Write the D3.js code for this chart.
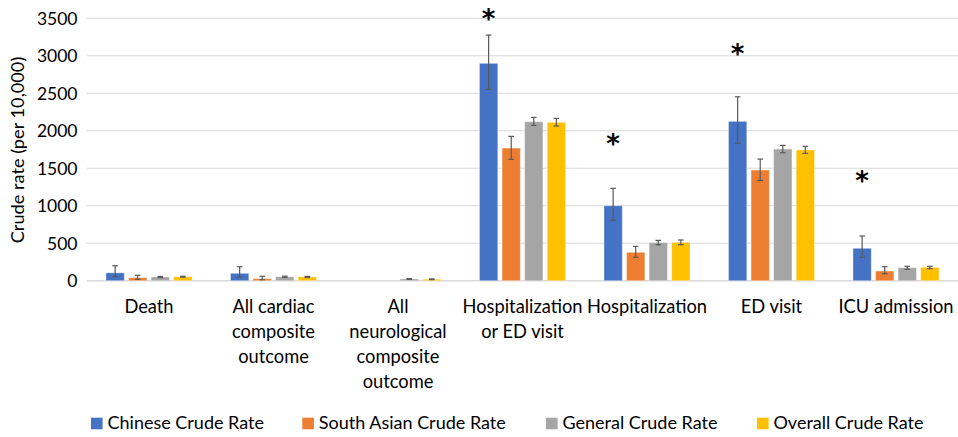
<!DOCTYPE html>
<html>
<head>
<meta charset="utf-8">
<script src="https://cdn.jsdelivr.net/npm/d3@7"></script>
<style>
  html, body { margin: 0; padding: 0; background: #fff; }
  svg { display: block; }
  text { font-family: Lato, "Open Sans", sans-serif; fill: #000; }
</style>
</head>
<body>
<svg id="chart" width="958" height="437"></svg>
<script>
// ---- data ----
const categories = [
  ["Death"],
  ["All cardiac", "composite", "outcome"],
  ["All", "neurological", "composite", "outcome"],
  ["Hospitalization", "or ED visit"],
  ["Hospitalization"],
  ["ED visit"],
  ["ICU admission"]
];
const seriesNames = ["Chinese Crude Rate", "South Asian Crude Rate", "General Crude Rate", "Overall Crude Rate"];
const seriesColors = ["#4472C4", "#ED7D31", "#A5A5A5", "#FFC000"];

const chineseRate    = [105, 98, 0, 2899, 1000, 2125, 432];
const chineseLow     = [53, 45, 0, 2552, 805, 1832, 312];
const chineseHigh    = [200, 187, 0, 3276, 1232, 2453, 596];

const southAsianRate = [40, 27, 0, 1769, 378, 1476, 129];
const southAsianLow  = [19, 13, 0, 1619, 312, 1338, 93];
const southAsianHigh = [72, 59, 0, 1925, 458, 1622, 187];

const generalRate    = [49, 53, 23, 2120, 507, 1756, 173];
const generalLow     = [41, 45, 18, 2072, 480, 1707, 152];
const generalHigh    = [57, 61, 28, 2178, 538, 1805, 192];

const overallRate    = [53, 50, 19, 2112, 511, 1743, 178];
const overallLow     = [47, 43, 15, 2063, 480, 1698, 160];
const overallHigh    = [59, 57, 24, 2165, 543, 1792, 192];

const yTicks = [0, 500, 1000, 1500, 2000, 2500, 3000, 3500];
// significance markers: category index and value level of the asterisk
const asteriskCats   = [3, 4, 5, 6];
const asteriskValues = [3587, 1916, 3121, 1423];

const rates = [chineseRate, southAsianRate, generalRate, overallRate];
const lows  = [chineseLow, southAsianLow, generalLow, overallLow];
const highs = [chineseHigh, southAsianHigh, generalHigh, overallHigh];

// ---- layout ----
const svg = d3.select("#chart");
const plotL = 86.75, plotR = 958.25, plotT = 18.3, plotB = 280.7;

const x0 = d3.scaleBand().domain(d3.range(categories.length)).range([plotL, plotR]).padding(0);
const bw = x0.bandwidth();
const x1 = d3.scaleBand().domain(d3.range(seriesNames.length))
  .range([19.25, bw - 19.25]).paddingInner(0.19).paddingOuter(0);
const y = d3.scaleLinear().domain([0, 3500]).range([plotB, plotT]);

// gridlines
svg.append("g").selectAll("line").data(yTicks).join("line")
  .attr("x1", plotL).attr("x2", plotR)
  .attr("y1", d => y(d)).attr("y2", d => y(d))
  .attr("stroke", "#d9d9d9").attr("stroke-width", d => d === 0 ? 1.5 : 1);

// y axis labels
const yAxis = d3.axisLeft(y).tickValues(yTicks).tickFormat(d3.format("d")).tickSize(0).tickPadding(0);
const gy = svg.append("g").attr("transform", `translate(77.5,0)`).call(yAxis);
gy.select(".domain").remove();
gy.selectAll("text").style("font-family", "Lato, sans-serif").style("font-size", "17.5px").attr("fill", "#000").attr("dy", "0.35em");

// y title
svg.append("text")
  .attr("transform", `translate(24,150) rotate(-90)`)
  .attr("text-anchor", "middle")
  .style("font-size", "18.2px")
  .text("Crude rate (per 10,000)");

// bars
const data = [];
categories.forEach((c, i) => {
  seriesNames.forEach((s, j) => {
    data.push({ ci: i, si: j, v: rates[j][i], lo: lows[j][i], hi: highs[j][i] });
  });
});

const bars = svg.append("g");
bars.selectAll("rect").data(data.filter(d => d.v > 0)).join("rect")
  .attr("x", d => x0(d.ci) + x1(d.si))
  .attr("y", d => y(d.v))
  .attr("width", x1.bandwidth())
  .attr("height", d => y(0) - y(d.v))
  .attr("fill", d => seriesColors[d.si])
  .attr("stroke", "rgba(255,255,255,0.35)")
  .attr("stroke-width", 1);

// error bars
const eb = svg.append("g").attr("stroke", "#595959").attr("stroke-width", 1.2).attr("fill", "none");
const ebData = data.filter(d => d.v > 0);
const cx = d => x0(d.ci) + x1(d.si) + x1.bandwidth() / 2;
eb.selectAll("line.v").data(ebData).join("line").attr("class", "v")
  .attr("x1", cx).attr("x2", cx)
  .attr("y1", d => y(d.lo)).attr("y2", d => y(d.hi));
eb.selectAll("line.t").data(ebData).join("line").attr("class", "t")
  .attr("x1", d => cx(d) - 2.8).attr("x2", d => cx(d) + 2.8)
  .attr("y1", d => y(d.hi)).attr("y2", d => y(d.hi));
eb.selectAll("line.b").data(ebData).join("line").attr("class", "b")
  .attr("x1", d => cx(d) - 2.8).attr("x2", d => cx(d) + 2.8)
  .attr("y1", d => y(d.lo)).attr("y2", d => y(d.lo));

// asterisks
svg.append("g").selectAll("text").data(asteriskCats).join("text")
  .attr("x", (c) => x0(c) + x1(0) + x1.bandwidth() / 2)
  .attr("y", (c, i) => y(asteriskValues[i]))
  .attr("dy", "0.62em")
  .attr("text-anchor", "middle")
  .style("font-family", "'DejaVu Sans', sans-serif")
  .style("font-weight", "bold")
  .style("font-size", "26px")
  .text("*");

// category labels
const cl = svg.append("g");
categories.forEach((lines, i) => {
  const t = cl.append("text")
    .attr("text-anchor", "middle")
    .style("font-size", "18.3px");
  lines.forEach((ln, k) => {
    t.append("tspan").attr("x", x0(i) + bw / 2).attr("y", 313 + k * 25).text(ln);
  });
});

// legend
const legendX = [91, 302.3, 546, 757];
const lg = svg.append("g");
seriesNames.forEach((s, j) => {
  lg.append("rect").attr("x", legendX[j]).attr("y", 417.7).attr("width", 11.6).attr("height", 11.6).attr("fill", seriesColors[j]);
  lg.append("text").attr("x", legendX[j] + 16.5).attr("y", 429).style("font-size", "18px").text(s);
});
</script>
</body>
</html>
